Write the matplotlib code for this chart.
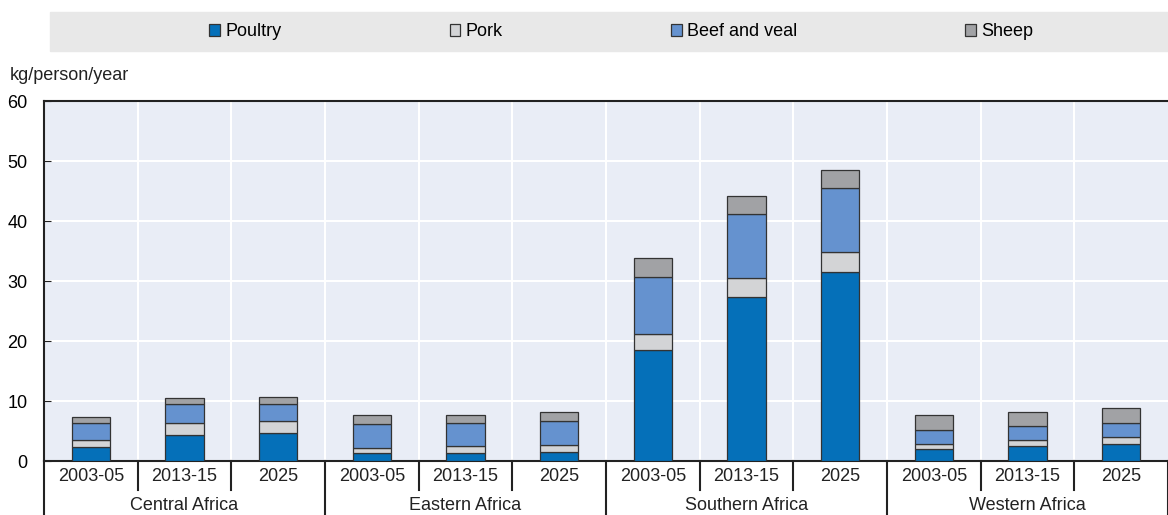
import numpy as np
import matplotlib.pyplot as plt
from matplotlib.patches import Rectangle

plt.rcParams['font.family'] = ['Liberation Sans Narrow', 'Liberation Sans', 'DejaVu Sans']

# data
regions = ['Central Africa', 'Eastern Africa', 'Southern Africa', 'Western Africa']
periods = ['2003-05', '2013-15', '2025']
poultry = [2.4, 4.3, 4.7, 1.3, 1.4, 1.5, 18.5, 27.3, 31.45, 1.95, 2.55, 2.85]
pork = [1.05, 2.1, 1.9, 0.9, 1.15, 1.2, 2.6, 3.2, 3.35, 0.85, 0.9, 1.1]
beef = [2.95, 3.1, 2.95, 3.95, 3.75, 3.9, 9.6, 10.7, 10.65, 2.4, 2.35, 2.4]
sheep = [0.9, 1.05, 1.1, 1.45, 1.4, 1.5, 3.2, 3.0, 3.05, 2.45, 2.4, 2.5]

series = [('Poultry', poultry, '#0570b9'),
          ('Pork', pork, '#d3d4d6'),
          ('Beef and veal', beef, '#6592cf'),
          ('Sheep', sheep, '#a1a2a5')]

fig = plt.figure(figsize=(11.68, 5.15), dpi=100)
ax = fig.add_axes([44 / 1168, 54 / 515, 1 - 44 / 1168, 360 / 515])
ax.set_facecolor('#e9edf6')

n = len(regions) * len(periods)
x = np.arange(n)
bottom = np.zeros(n)
for name, vals, col in series:
    ax.bar(x, vals, 0.41, bottom=bottom, color=col, edgecolor='#333333',
           linewidth=0.9, label=name, zorder=3)
    bottom += np.array(vals)

# axes and grid
ax.set_xlim(-0.5, n - 0.5)
ax.set_ylim(0, 60)
ax.set_yticks(np.arange(0, 61, 10))
ax.set_xticks(np.arange(0.5, n - 1, 1), minor=True)
ax.grid(axis='y', which='major', color='white', linewidth=1.5, zorder=0)
ax.grid(axis='x', which='minor', color='white', linewidth=1.5, zorder=0)
ax.tick_params(axis='y', direction='in', length=5, labelsize=13, color='#222222', pad=12)
ax.tick_params(axis='x', which='both', length=0)
ax.set_xticks(x)
ax.set_xticklabels(periods * len(regions), fontsize=13, color='#222222')
ax.tick_params(axis='x', pad=5)
for s in ['left', 'top', 'bottom']:
    ax.spines[s].set_color('#222222')
    ax.spines[s].set_linewidth(1.5)
ax.spines['right'].set_visible(False)

# separators and group labels below the axis
tr = ax.get_xaxis_transform()
for i in range(n + 1):
    b = i - 0.5
    low = -0.15 if i % 3 == 0 else -0.08
    ax.plot([b, b], [0, low], transform=tr, color='#222222', lw=1.5, clip_on=False)
for j, reg in enumerate(regions):
    ax.text(j * 3 + 1, -0.125, reg, transform=tr, ha='center', va='center',
            fontsize=13, color='#222222')

ax.text(-0.0305, 1.072, 'kg/person/year', transform=ax.transAxes, fontsize=13,
        color='#222222', ha='left', va='center')

# legend with grey band
fig.patches.append(Rectangle((50 / 1168, 1 - 51 / 515), 1 - 50 / 1168, 39 / 515,
                             transform=fig.transFigure, color='#e8e8e8', zorder=0))
fig.legend(loc='center', bbox_to_anchor=(0.532, 1 - 32 / 515), ncol=4, frameon=False,
           fontsize=13, handlelength=0.6, handleheight=0.6, handletextpad=0.3,
           columnspacing=9.3)

fig.savefig('out.png', dpi=100)
